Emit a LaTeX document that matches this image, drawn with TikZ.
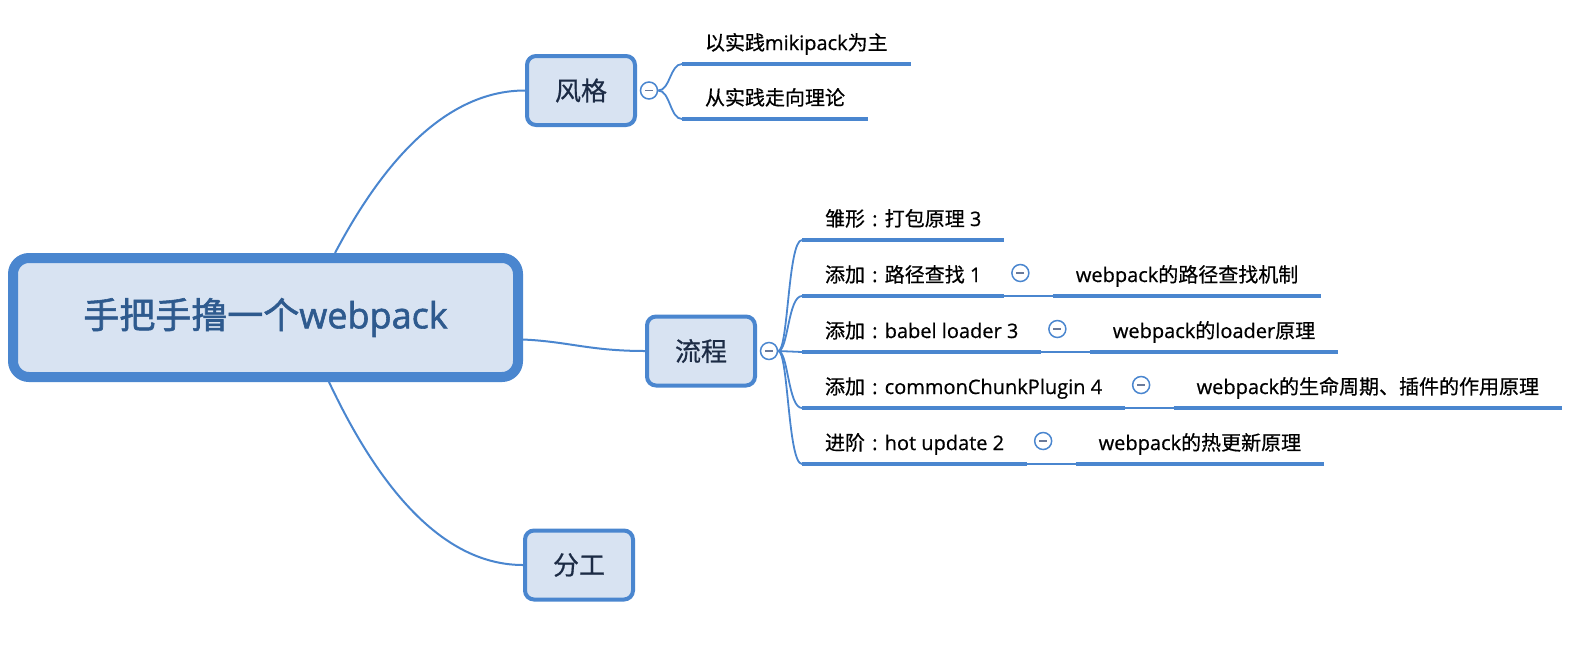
\documentclass[tikz,border=0pt]{standalone}
\usepackage{fontspec}
\setmainfont{Open Sans}[FakeBold=0.6]
\newfontfamily\cjk[FakeBold=0.6]{Noto Sans CJK SC}
\newfontfamily\rootlatin[FakeBold=1.6]{Open Sans}
\newfontfamily\rootcjk[FakeBold=1.6]{Noto Sans CJK SC}
\newcommand{\zh}[1]{{\cjk #1}}
\newcommand{\zhcolon}{\hspace{0.36em}:\hspace{0.36em}}
\definecolor{mapblue}{HTML}{4A86CF}
\definecolor{mapfill}{HTML}{D8E3F2}
\definecolor{roottext}{HTML}{2E5A8E}
\definecolor{boxtext}{HTML}{1C2B45}
\definecolor{foldminus}{HTML}{6A7A9A}
\tikzset{
  rootbox/.style={draw=mapblue, fill=mapfill, line width=10pt, rounded corners=16pt,
    minimum width=505pt, minimum height=119pt, text=roottext, font=\rootlatin\fontsize{36}{40}\selectfont},
  mainbox/.style={draw=mapblue, fill=mapfill, line width=4pt, rounded corners=9pt,
    minimum width=108pt, minimum height=69pt, text=boxtext, font=\cjk\fontsize{26}{30}\selectfont},
  fold/.style={circle, draw=mapblue, fill=white, line width=1.5pt, minimum size=17pt, inner sep=0pt,
    path picture={\draw[foldminus, line width=1.5pt] ([xshift=-4pt]path picture bounding box.center)
      -- ([xshift=4pt]path picture bounding box.center);}},
  leaf/.style={anchor=south west, inner xsep=23pt, inner ysep=0pt, outer sep=0pt,
    text height=15pt, text depth=14pt, font=\fontsize{20}{22}\selectfont},
  uline/.style={draw=mapblue, line width=4.5pt},
  branch/.style={draw=mapblue, line width=2pt},
  link/.style={draw=mapblue, line width=1.8pt}
}
\begin{document}
\begin{tikzpicture}[x=1pt, y=-1pt]
\useasboundingbox (0,0) rectangle (1579,649);
% central topic and main topics
\node[rootbox] (root) at (265.5,317.5) {{\rootcjk 手把手撸一个}webpack};
\node[mainbox] (fengge) at (581,90.5) {风格};
\node[mainbox] (liucheng) at (701,351) {流程};
\node[mainbox] (fengong) at (579,565) {分工};
\draw[branch] ([xshift=69.5pt]root.north) .. controls +(57,-108) and +(-69,0) .. (fengge.west);
\draw[branch] ([yshift=-22pt]root.east) .. controls +(45,2) and +(-55,0) .. (liucheng.west);
\draw[branch] ([xshift=63.5pt]root.south) .. controls +(57,121) and +(-72,0) .. (fengong.west);
\node[fold] (f1) at ([xshift=12pt]fengge.east) {};
\node[fold] (f2) at ([xshift=12pt]liucheng.east) {};
% style
\node[leaf] (s1) at (682,64) {\zh{以实践}mikipack\zh{为主}};
\node[leaf] (s2) at (682,119) {\zh{从实践走向理论}};
\draw[link] (f1.east) .. controls +(12,0) and +(-12,0) .. (s1.south west);
\draw[link] (f1.east) .. controls +(12,0) and +(-12,0) .. (s2.south west);
% process
\node[leaf] (a1) at (802,240) {\zh{雏形}\zhcolon\zh{打包原理} 3};
\node[leaf] (a2) at (802,296) {\zh{添加}\zhcolon\zh{路径查找} 1};
\node[leaf] (a3) at (802,352) {\zh{添加}\zhcolon babel loader 3};
\node[leaf] (a4) at (802,408) {\zh{添加}\zhcolon commonChunkPlugin 4};
\node[leaf] (a5) at (802,464) {\zh{进阶}\zhcolon hot update 2};
\draw[link] (f2.east) .. controls +(10,0) and +(-14,0) .. (a1.south west);
\draw[link] (f2.east) .. controls +(10,0) and +(-14,0) .. (a2.south west);
\draw[link] (f2.east) -- (a3.south west);
\draw[link] (f2.east) .. controls +(10,0) and +(-14,0) .. (a4.south west);
\draw[link] (f2.east) .. controls +(10,0) and +(-14,0) .. (a5.south west);
% details
\node[leaf] (p2) at ([xshift=48.5pt]a2.south east) {webpack\zh{的路径查找机制}};
\node[leaf] (p3) at ([xshift=48.5pt]a3.south east) {webpack\zh{的}loader\zh{原理}};
\node[leaf] (p4) at ([xshift=48.5pt]a4.south east) {webpack\zh{的生命周期、插件的作用原理}};
\node[leaf] (p5) at ([xshift=48.5pt]a5.south east) {webpack\zh{的热更新原理}};
\node[fold] (g2) at ([xshift=16pt,yshift=23pt]a2.south east) {};
\node[fold] (g3) at ([xshift=16pt,yshift=23pt]a3.south east) {};
\node[fold] (g4) at ([xshift=16pt,yshift=23pt]a4.south east) {};
\node[fold] (g5) at ([xshift=16pt,yshift=23pt]a5.south east) {};
\draw[link] (a2.south east) -- (p2.south west);
\draw[link] (a3.south east) -- (p3.south west);
\draw[link] (a4.south east) -- (p4.south west);
\draw[link] (a5.south east) -- (p5.south west);
\foreach \n in {s1,s2,a1,a2,a3,a4,a5,p2,p3,p4,p5}
  \draw[uline] (\n.south west) -- (\n.south east);
\end{tikzpicture}
\end{document}
